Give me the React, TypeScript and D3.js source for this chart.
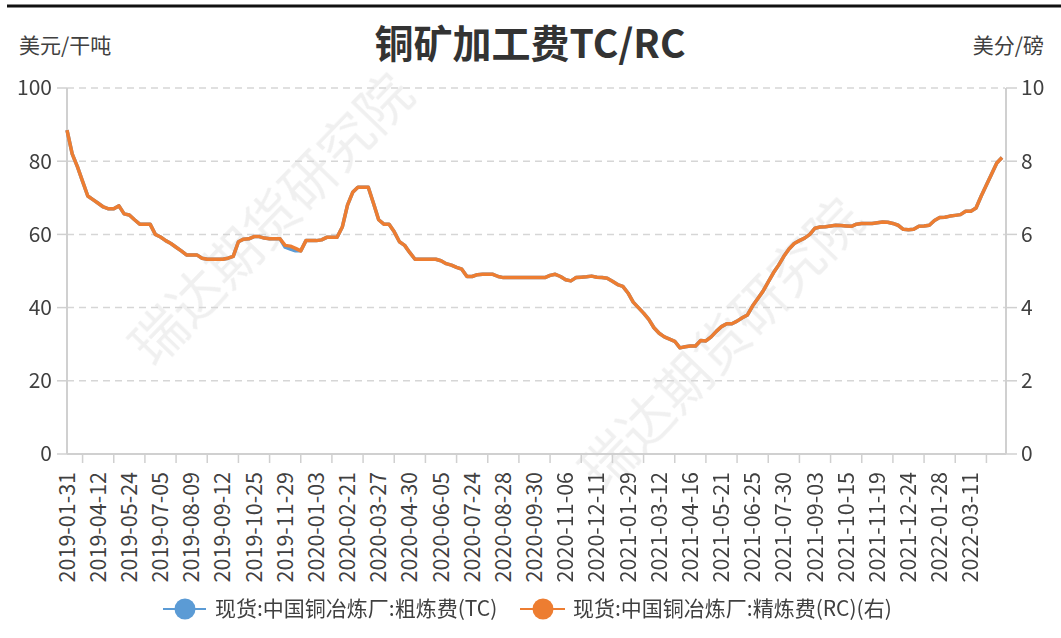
import * as d3 from "d3";
import React, { useEffect } from "react";

// 粗炼费 TC (美元/干吨), weekly
const tcValues = [
  88.5, 82, 78.5, 74.5, 70.5, 69.5, 68.5, 67.5, 67, 67,
  67.8, 65.6, 65.3, 64, 62.8, 62.8, 62.8, 60, 59.3, 58.3,
  57.5, 56.5, 55.5, 54.4, 54.4, 54.4, 53.5, 53.2, 53.2, 53.2,
  53.2, 53.5, 54, 58, 58.7, 58.8, 59.4, 59.4, 59, 58.8,
  58.8, 58.8, 56.5, 56, 55.5, 55.5, 58.3, 58.3, 58.3, 58.5,
  59.2, 59.2, 59.2, 62, 68, 71.5, 72.9, 72.9, 72.9, 68.5,
  64, 62.8, 62.8, 60.7, 58, 57, 55, 53.2, 53.2, 53.2,
  53.2, 53.2, 52.8, 52, 51.6, 51, 50.5, 48.5, 48.5, 49,
  49.1, 49.1, 49.1, 48.5, 48.2, 48.2, 48.2, 48.2, 48.2, 48.2,
  48.2, 48.2, 48.2, 48.8, 49.1, 48.5, 47.6, 47.3, 48.2, 48.3,
  48.4, 48.6, 48.3, 48.2, 48, 47.2, 46.3, 45.8, 44, 41.5,
  40, 38.5, 36.8, 34.5, 33, 32, 31.4, 30.8, 29, 29.3,
  29.5, 29.5, 31, 30.9, 32, 33.5, 34.8, 35.6, 35.6, 36.3,
  37.2, 38, 40.5, 42.5, 44.5, 47, 49.5, 51.6, 54, 56,
  57.5, 58.3, 59, 60, 61.7, 62, 62.1, 62.3, 62.5, 62.4,
  62.3, 62.2, 62.8, 63, 63, 63, 63.2, 63.4, 63.3, 63,
  62.5, 61.4, 61.3, 61.4, 62.2, 62.3, 62.5, 63.8, 64.6, 64.7,
  65, 65.2, 65.4, 66.3, 66.3, 67.2, 70.5, 73.5, 76.5, 79.5,
  81,
];

// 精炼费 RC (美分/磅), weekly
const rcValues = [
  8.85, 8.2, 7.85, 7.45, 7.05, 6.95, 6.85, 6.75, 6.7, 6.7,
  6.78, 6.56, 6.53, 6.4, 6.28, 6.28, 6.28, 6.0, 5.93, 5.83,
  5.75, 5.65, 5.55, 5.44, 5.44, 5.44, 5.35, 5.32, 5.32, 5.32,
  5.32, 5.35, 5.4, 5.8, 5.87, 5.88, 5.94, 5.94, 5.9, 5.88,
  5.88, 5.88, 5.7, 5.68, 5.62, 5.55, 5.83, 5.83, 5.83, 5.85,
  5.92, 5.92, 5.92, 6.2, 6.8, 7.15, 7.29, 7.29, 7.29, 6.85,
  6.4, 6.28, 6.28, 6.07, 5.8, 5.7, 5.5, 5.32, 5.32, 5.32,
  5.32, 5.32, 5.28, 5.2, 5.16, 5.1, 5.05, 4.85, 4.85, 4.9,
  4.91, 4.91, 4.91, 4.85, 4.82, 4.82, 4.82, 4.82, 4.82, 4.82,
  4.82, 4.82, 4.82, 4.88, 4.91, 4.85, 4.76, 4.73, 4.82, 4.83,
  4.84, 4.86, 4.83, 4.82, 4.8, 4.72, 4.63, 4.58, 4.4, 4.15,
  4.0, 3.85, 3.68, 3.45, 3.3, 3.2, 3.14, 3.08, 2.9, 2.93,
  2.95, 2.95, 3.1, 3.09, 3.2, 3.35, 3.48, 3.56, 3.56, 3.63,
  3.72, 3.8, 4.05, 4.25, 4.45, 4.7, 4.95, 5.16, 5.4, 5.6,
  5.75, 5.83, 5.9, 6.0, 6.17, 6.2, 6.21, 6.23, 6.25, 6.24,
  6.23, 6.22, 6.28, 6.3, 6.3, 6.3, 6.32, 6.34, 6.33, 6.3,
  6.25, 6.14, 6.13, 6.14, 6.22, 6.23, 6.25, 6.38, 6.46, 6.47,
  6.5, 6.52, 6.54, 6.63, 6.63, 6.72, 7.05, 7.35, 7.65, 7.95,
  8.1,
];

// x-axis labels, one every 6 weeks
const dateLabels = [
  "2019-01-31", "2019-04-12", "2019-05-24", "2019-07-05", "2019-08-09",
  "2019-09-12", "2019-10-25", "2019-11-29", "2020-01-03", "2020-02-21",
  "2020-03-27", "2020-04-30", "2020-06-05", "2020-07-24", "2020-08-28",
  "2020-09-30", "2020-11-06", "2020-12-11", "2021-01-29", "2021-03-12",
  "2021-04-16", "2021-05-21", "2021-06-25", "2021-07-30", "2021-09-03",
  "2021-10-15", "2021-11-19", "2021-12-24", "2022-01-28", "2022-03-11",
];

const leftTicks = [0, 20, 40, 60, 80, 100];
const rightTicks = [0, 2, 4, 6, 8, 10];

const W = 1061;
const H = 638;
const plotLeft = 67;
const plotRight = 1005;
const plotTop = 88;
const plotBottom = 454;
const labelEvery = 6;

const font = "'Noto Sans CJK SC', 'Noto Sans', sans-serif";
const textColor = "#404040";
const axisColor = "#d0d0d0";
const blue = "#5B9BD5";
const orange = "#ED7D31";

export default function App() {
  useEffect(() => {
    document.body.style.margin = "0";
  }, []);

  const n = tcValues.length;
  const x = d3.scaleLinear().domain([0, n - 1]).range([plotLeft, 1002]);
  const yL = d3.scaleLinear().domain([0, 100]).range([plotBottom, plotTop]);
  const yR = d3.scaleLinear().domain([0, 10]).range([plotBottom, plotTop]);

  const lineTC = d3
    .line<number>()
    .x((_, i) => x(i))
    .y((d) => yL(d));
  const lineRC = d3
    .line<number>()
    .x((_, i) => x(i))
    .y((d) => yR(d));

  const tickMarks = d3.range(labelEvery / 2, n, labelEvery);

  return (
    <svg width={W} height={H} style={{ display: "block", background: "#fff" }} fontFamily={font}>
      <line x1={7} x2={W} y1={6} y2={6} stroke="#111" strokeWidth={3} />

      <text x={530} y={58} textAnchor="middle" fontSize={39} fontWeight="bold" fill="#333">
        铜矿加工费TC/RC
      </text>
      <text x={19} y={53} fontSize={21} fill={textColor}>
        美元/干吨
      </text>
      <text x={1044} y={53} fontSize={21} fill={textColor} textAnchor="end">
        美分/磅
      </text>

      {/* watermark */}
      <g fill="#000" opacity={0.06} fontSize={54}>
        <text transform="translate(272,220) rotate(-46)" textAnchor="middle" dy="0.35em">
          瑞达期货研究院
        </text>
        <text transform="translate(722,345) rotate(-46)" textAnchor="middle" dy="0.35em">
          瑞达期货研究院
        </text>
      </g>

      {/* grid */}
      {leftTicks
        .filter((t) => t > 0)
        .map((t) => (
          <line
            key={"g" + t}
            x1={plotLeft}
            x2={plotRight}
            y1={yL(t)}
            y2={yL(t)}
            stroke="#d6d6d6"
            strokeWidth={1.5}
            strokeDasharray="7,5"
          />
        ))}

      {/* left axis */}
      <line x1={plotLeft} x2={plotLeft} y1={plotTop} y2={plotBottom} stroke={axisColor} strokeWidth={2} />
      {leftTicks.map((t) => (
        <g key={"l" + t}>
          <line x1={plotLeft - 10} x2={plotLeft} y1={yL(t)} y2={yL(t)} stroke={axisColor} strokeWidth={1.5} />
          <text x={52} y={yL(t)} dy="0.35em" textAnchor="end" fontSize={21} fill={textColor}>
            {t}
          </text>
        </g>
      ))}

      {/* right axis */}
      <line x1={plotRight + 1} x2={plotRight + 1} y1={plotTop} y2={plotBottom} stroke={axisColor} strokeWidth={2} />
      {rightTicks.map((t) => (
        <g key={"r" + t}>
          <line x1={plotRight + 1} x2={plotRight + 12} y1={yR(t)} y2={yR(t)} stroke={axisColor} strokeWidth={1.5} />
          <text x={1021} y={yR(t)} dy="0.35em" fontSize={21} fill={textColor}>
            {t}
          </text>
        </g>
      ))}

      {/* x axis */}
      <line x1={plotLeft} x2={plotRight + 1} y1={plotBottom} y2={plotBottom} stroke={axisColor} strokeWidth={2} />
      {tickMarks.map((i) => (
        <line key={"t" + i} x1={x(i)} x2={x(i)} y1={plotBottom} y2={plotBottom + 9} stroke={axisColor} strokeWidth={1.5} />
      ))}
      {dateLabels.map((d, k) => (
        <text
          key={d}
          transform={`translate(${x(k * labelEvery)},${plotBottom + 18}) rotate(-90)`}
          textAnchor="end"
          dy="0.35em"
          fontSize={21.5}
          fill={textColor}
        >
          {d}
        </text>
      ))}

      {/* series */}
      <path d={lineTC(tcValues) ?? ""} fill="none" stroke={blue} strokeWidth={3.5} strokeLinejoin="round" />
      <path d={lineRC(rcValues) ?? ""} fill="none" stroke={orange} strokeWidth={3.5} strokeLinejoin="round" />

      {/* legend */}
      <g fontSize={21} fill={textColor}>
        <line x1={163} x2={206} y1={609} y2={609} stroke={blue} strokeWidth={2} />
        <circle cx={185} cy={609} r={10.5} fill={blue} />
        <text x={215} y={609} dy="0.35em">
          现货:中国铜冶炼厂:粗炼费(TC)
        </text>
        <line x1={520} x2={565} y1={609} y2={609} stroke={orange} strokeWidth={2} />
        <circle cx={543} cy={609} r={10.5} fill={orange} />
        <text x={573} y={609} dy="0.35em">
          现货:中国铜冶炼厂:精炼费(RC)(右)
        </text>
      </g>
    </svg>
  );
}
